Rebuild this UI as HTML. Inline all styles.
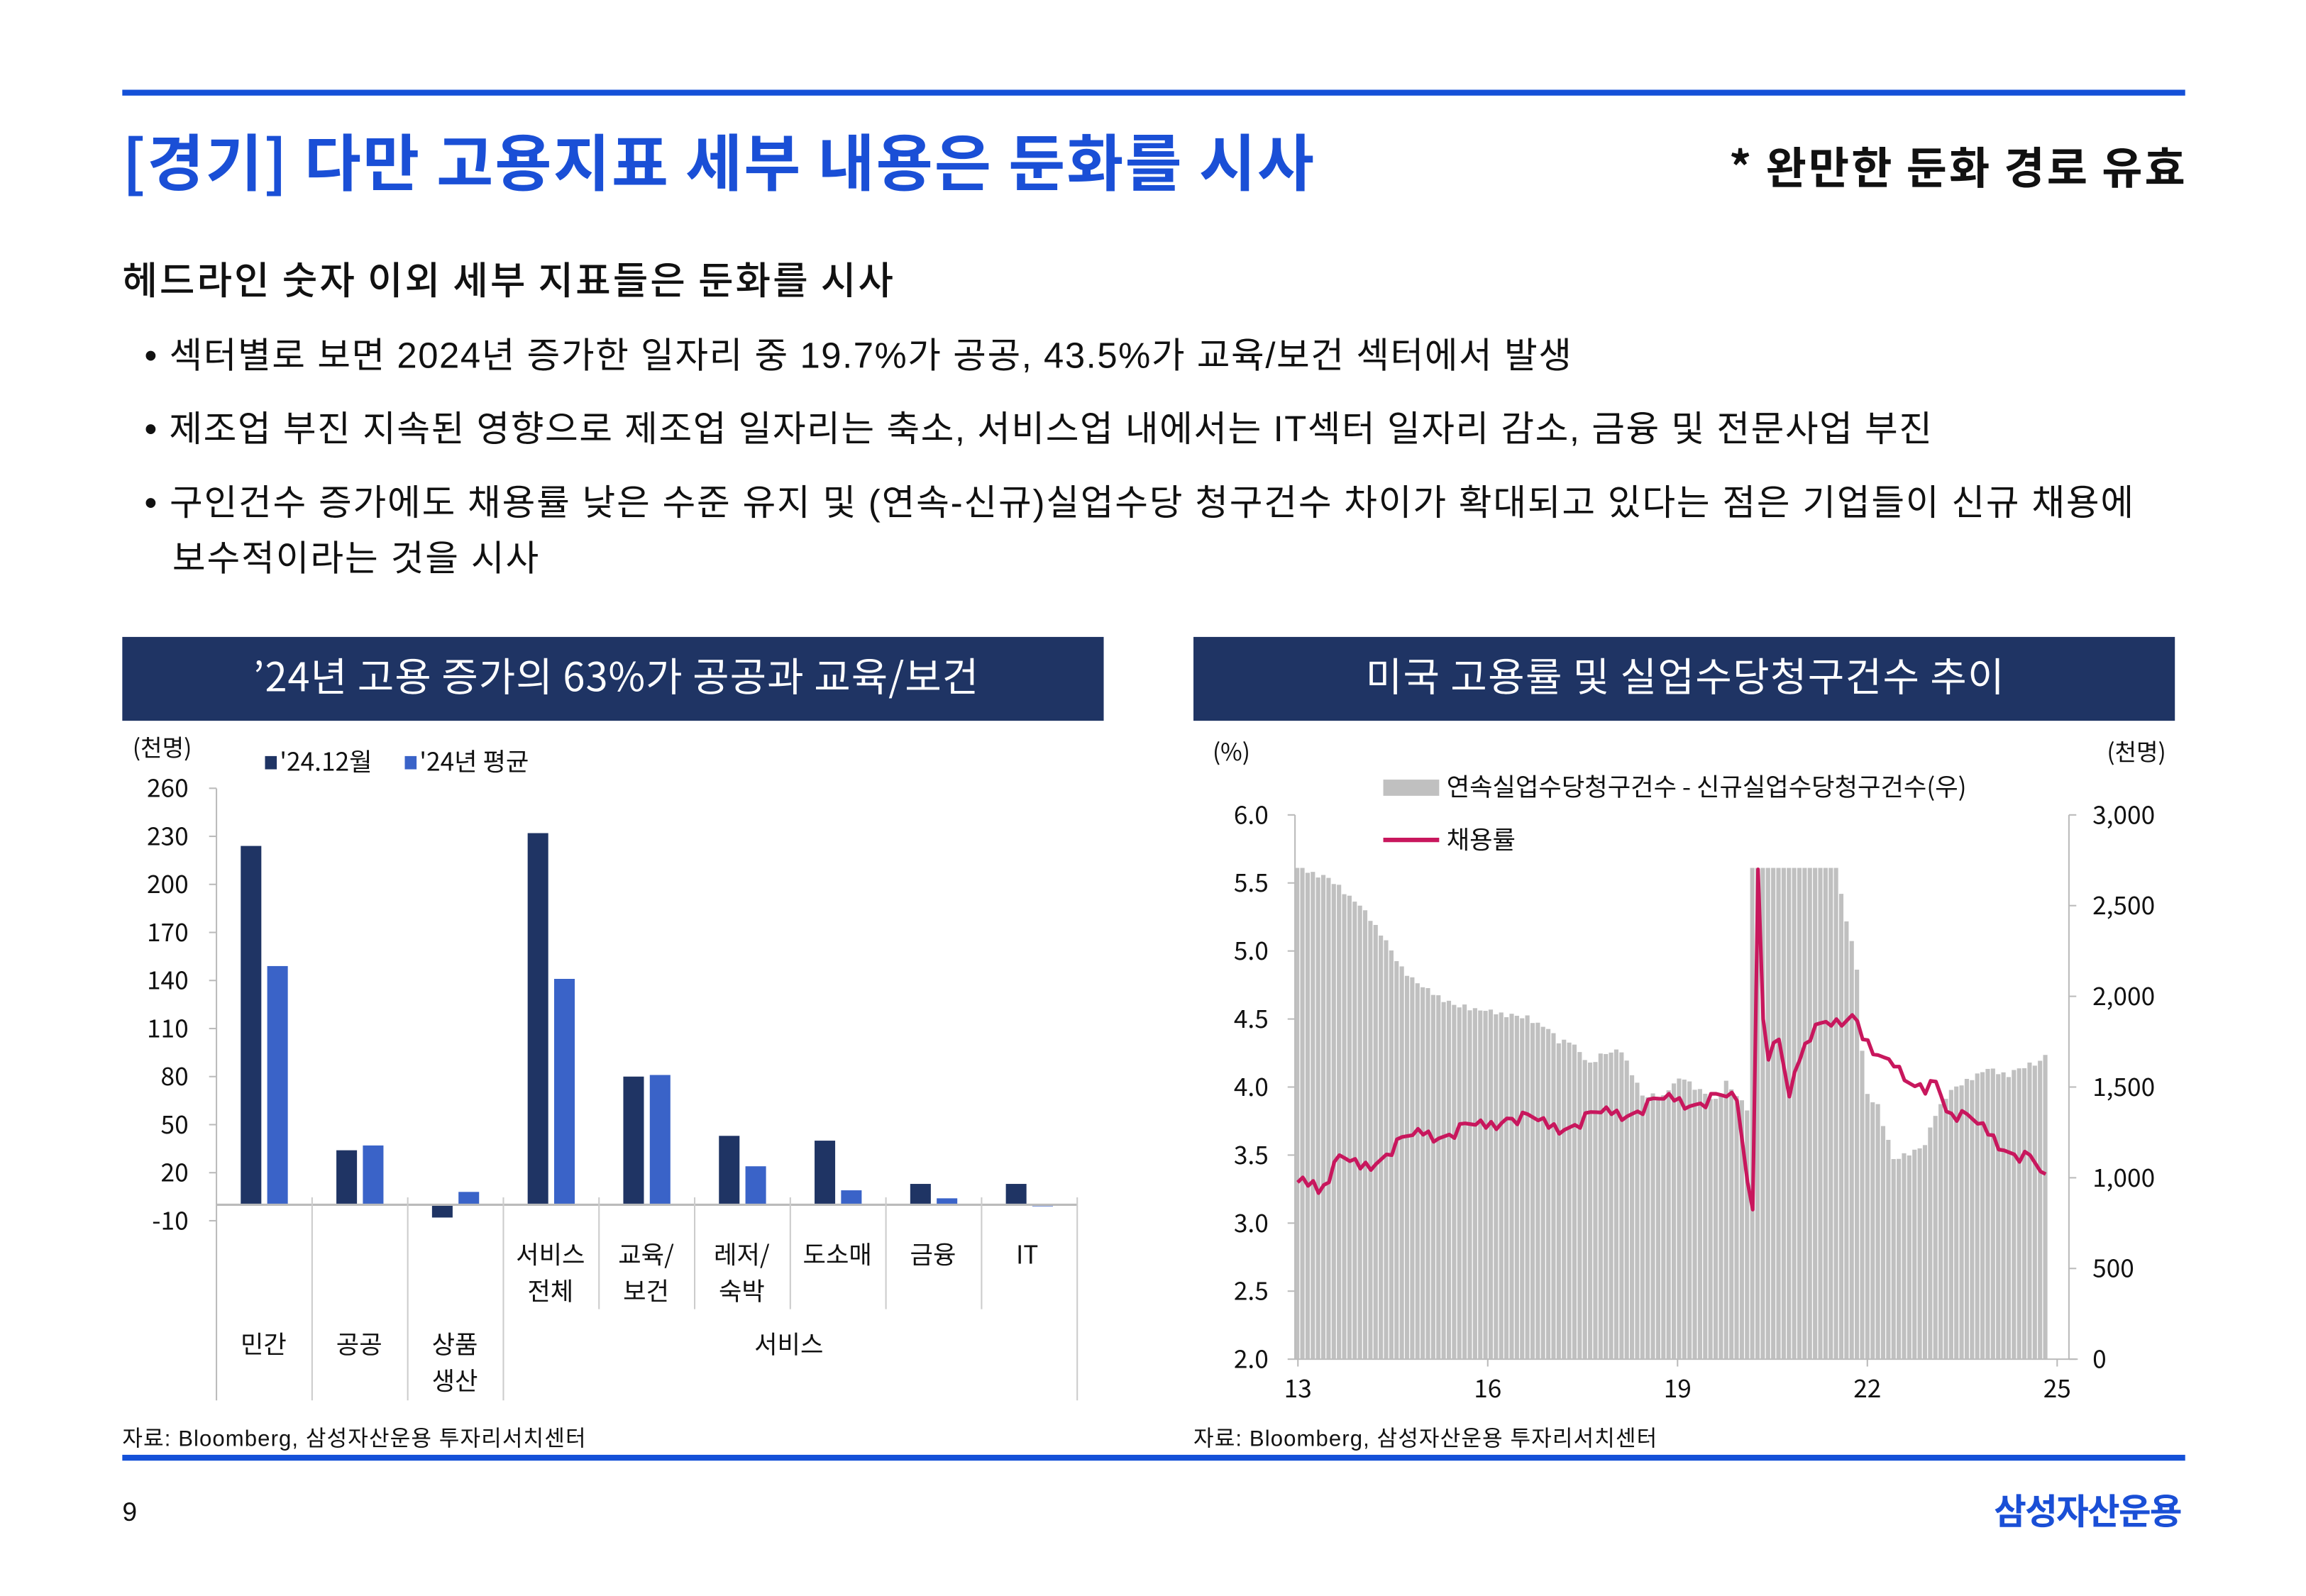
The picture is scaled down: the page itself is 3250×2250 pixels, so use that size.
<!DOCTYPE html>
<html><head><meta charset="utf-8">
<style>
html,body{margin:0;padding:0;background:#fff;}
svg{display:block;}
text{font-family:"Liberation Sans","Noto Sans CJK KR",sans-serif;}
</style></head>
<body>
<svg id="s" xmlns="http://www.w3.org/2000/svg" width="3250" height="2250" viewBox="0 0 1567 1085">
<rect width="1567" height="1085" fill="#fff"/>
<rect x="83" y="61" width="1402" height="4" fill="#1450d8"/>
<text x="83" y="126" font-size="42" font-weight="bold" fill="#1a4fd6" textLength="810" lengthAdjust="spacing" style="font-family:'Noto Sans CJK KR',sans-serif">[경기] 다만 고용지표 세부 내용은 둔화를 시사</text>
<text x="1175" y="125" font-size="30" font-weight="bold" fill="#111" textLength="310" lengthAdjust="spacing" style="font-family:'Noto Sans CJK KR',sans-serif">* 완만한 둔화 경로 유효</text>
<text x="83" y="200" font-size="26" font-weight="500" fill="#111" textLength="524" lengthAdjust="spacing" style="font-family:'Noto Sans CJK KR',sans-serif">헤드라인 숫자 이외 세부 지표들은 둔화를 시사</text>
<g font-size="24.5" fill="#111" style="font-family:'Noto Sans CJK KR',sans-serif">
<text x="98" y="250" textLength="970" lengthAdjust="spacing">• 섹터별로 보면 2024년 증가한 일자리 중 19.7%가 공공, 43.5%가 교육/보건 섹터에서 발생</text>
<text x="98" y="300" textLength="1215" lengthAdjust="spacing">• 제조업 부진 지속된 영향으로 제조업 일자리는 축소, 서비스업 내에서는 IT섹터 일자리 감소, 금융 및 전문사업 부진</text>
<text x="98" y="350" textLength="1352" lengthAdjust="spacing">• 구인건수 증가에도 채용률 낮은 수준 유지 및 (연속-신규)실업수당 청구건수 차이가 확대되고 있다는 점은 기업들이 신규 채용에</text>
<text x="117" y="388" textLength="249" lengthAdjust="spacing">보수적이라는 것을 시사</text>
</g>
<rect x="83" y="433" width="667" height="57" fill="#1f3464"/>
<text x="172" y="470" font-size="27" fill="#fff" textLength="493" lengthAdjust="spacing" style="font-family:'Noto Sans CJK KR',sans-serif">’24년 고용 증가의 63%가 공공과 교육/보건</text>
<rect x="811" y="433" width="667" height="57" fill="#1f3464"/>
<text x="928" y="470" font-size="27" fill="#fff" textLength="434" lengthAdjust="spacing" style="font-family:'Noto Sans CJK KR',sans-serif">미국 고용률 및 실업수당청구건수 추이</text>
<g id="left"></g>
<g id="right"></g>
<g font-size="15" fill="#111" style="font-family:'Noto Sans CJK KR',sans-serif">
<text x="83" y="983" textLength="315" lengthAdjust="spacing">자료: Bloomberg, 삼성자산운용 투자리서치센터</text>
<text x="811" y="983" textLength="315" lengthAdjust="spacing">자료: Bloomberg, 삼성자산운용 투자리서치센터</text>
</g>
<rect x="83" y="989" width="1402" height="4" fill="#1450d8"/>
<text x="83" y="1034" font-size="18" fill="#111">9</text>
<text x="1355" y="1036" font-size="24" font-weight="bold" fill="#1a4fd6" textLength="128" lengthAdjust="spacing" style="font-family:'Noto Sans CJK KR',sans-serif">삼성자산운용</text>
</svg>
<script>
var NS="http://www.w3.org/2000/svg";
function el(p,t,a,txt){var e=document.createElementNS(NS,t);for(var k in a)e.setAttribute(k,a[k]);if(txt!==undefined)e.textContent=txt;p.appendChild(e);return e;}
var L=document.getElementById('left');
var KR="font-family:'Noto Sans CJK KR',sans-serif";
var y0=819, k=294/270;
function Y(v){return y0-v*k;}
el(L,'line',{x1:147,y1:536,x2:147,y2:952,stroke:'#bbb','stroke-width':1});
for(var v=260;v>=-10;v-=30){el(L,'line',{x1:142,y1:Y(v),x2:147,y2:Y(v),stroke:'#bbb'});el(L,'text',{x:128,y:Y(v)+6,'font-size':17,'text-anchor':'end',fill:'#111',style:KR},String(v));}
el(L,'text',{x:90,y:514,'font-size':16,fill:'#111',style:KR},'(천명)');
el(L,'rect',{x:180,y:514,width:8,height:9,fill:'#1f3464'});
el(L,'text',{x:190,y:524,'font-size':17,fill:'#111',style:KR},"'24.12월");
el(L,'rect',{x:275,y:514,width:8,height:9,fill:'#3a63c8'});
el(L,'text',{x:285,y:524,'font-size':17,fill:'#111',style:KR},"'24년 평균");
var d=[[224,149],[34,37],[-8,8],[232,141],[80,81],[43,24],[40,9],[13,4],[13,-1]];
for(var i=0;i<9;i++){var c=179.5+i*65;
 var a=d[i][0],b=d[i][1];
 el(L,'rect',{x:c-16,y:Math.min(Y(a),y0),width:14,height:Math.abs(Y(a)-y0),fill:'#1f3464'});
 el(L,'rect',{x:c+2,y:Math.min(Y(b),y0),width:14,height:Math.max(1,Math.abs(Y(b)-y0)),fill:'#3a63c8'});}
el(L,'line',{x1:147,y1:y0,x2:732,y2:y0,stroke:'#bbb','stroke-width':1.5});
for(var i=1;i<=9;i++){var x=147+i*65;var full=(i<=3||i==9);
 el(L,'line',{x1:x,y1:814,x2:x,y2:full?952:890,stroke:'#ccc'});}
var lab=[[374,['서비스','전체']],[439,['교육/','보건']],[504,['레저/','숙박']],[569,['도소매']],[634,['금융']],[698,['IT']]];
lab.forEach(function(l){l[1].forEach(function(t,j){el(L,'text',{x:l[0],y:859+j*25,'font-size':17,'text-anchor':'middle',fill:'#111',style:KR},t);});});
[[179,['민간']],[244,['공공']],[309,['상품','생산']],[536,['서비스']]].forEach(function(l){l[1].forEach(function(t,j){el(L,'text',{x:l[0],y:920+j*25,'font-size':17,'text-anchor':'middle',fill:'#111',style:KR},t);});});
var R=document.getElementById('right');
var x0=880,x1=1392,yb=924,yt=554;
function YL(v){return yb-(v-2)/4*(yb-yt);}
function YR(v){return yb-v/3000*(yb-yt);}
function interp(anc,n){var o=[];for(var i=0;i<n;i++){for(var j=0;j<anc.length-1;j++){if(i>=anc[j][0]&&i<=anc[j+1][0]){var t=(i-anc[j][0])/((anc[j+1][0]-anc[j][0])||1);o.push(anc[j][1]+t*(anc[j+1][1]-anc[j][1]));break;}}}return o;}
var n=144;
var bars=interp([[0,2800],[1,2700],[6,2650],[12,2500],[16,2350],[20,2150],[24,2050],[30,1950],[36,1920],[44,1880],[48,1820],[50,1750],[52,1760],[56,1620],[58,1680],[62,1700],[64,1580],[66,1450],[70,1450],[72,1520],[74,1550],[76,1500],[80,1420],[82,1530],[84,1450],[86,1380],[87,2800],[103,2800],[104,2550],[106,2300],[107,2150],[108,1700],[109,1450],[111,1400],[112,1300],[114,1100],[116,1120],[118,1150],[120,1180],[122,1350],[124,1450],[126,1500],[128,1530],[130,1570],[132,1600],[134,1580],[136,1570],[138,1600],[140,1620],[142,1640],[143,1680]],n);
var noise=[0,20,-15,10,-25,15,5,-10,25,-20,8,-5];
var bw=(x1-x0)/n;
for(var i=0;i<n;i++){var v=bars[i]+(i<87||i>103?noise[i%12]*0.6:0);v=Math.min(v,2708);
 el(R,'rect',{x:x0+i*bw,y:YR(v),width:bw-0.6,height:yb-YR(v),fill:'#c0c0c0'});}
var hr=interp([[0,3.3],[3,3.35],[4,3.25],[8,3.45],[12,3.4],[18,3.55],[24,3.65],[36,3.7],[40,3.8],[48,3.7],[60,3.8],[66,3.85],[72,3.9],[84,3.9],[85,3.6],[86,3.3],[87,3.1],[88,5.6],[89,4.5],[90,4.25],[92,4.3],[94,3.9],[96,4.2],[99,4.5],[102,4.5],[104,4.4],[106,4.5],[108,4.35],[112,4.25],[114,4.2],[116,4.0],[120,3.95],[122,4.1],[124,3.85],[126,3.8],[130,3.7],[134,3.6],[138,3.5],[140,3.45],[142,3.35],[143,3.3]],n);
var nz=[0,0.05,-0.06,0.04,-0.03,0.06,-0.05,0.02,0.05,-0.04,0.03,-0.02];
var pts=[];for(var i=0;i<n;i++){var v=hr[i]+((i>=85&&i<=89)?0:nz[(i*7)%12]);pts.push((x0+(i+0.5)*bw).toFixed(1)+','+YL(v).toFixed(1));}
el(R,'polyline',{points:pts.join(' '),fill:'none',stroke:'#c8175d','stroke-width':2.5,'stroke-linejoin':'round'});
el(R,'line',{x1:x0,y1:yt,x2:x0,y2:yb,stroke:'#bbb'});
el(R,'line',{x1:1406,y1:yt,x2:1406,y2:yb,stroke:'#bbb'});
el(R,'line',{x1:x0,y1:yb,x2:1412,y2:yb,stroke:'#bbb'});
for(var i=0;i<=8;i++){var v=2+i*0.5,y=YL(v);el(R,'line',{x1:875,y1:y,x2:x0,y2:y,stroke:'#bbb'});el(R,'text',{x:862,y:y+6,'font-size':17,'text-anchor':'end',fill:'#111',style:KR},v.toFixed(1));}
var rl=['0','500','1,000','1,500','2,000','2,500','3,000'];
for(var i=0;i<=6;i++){var y=YR(i*500);el(R,'line',{x1:1406,y1:y,x2:1411,y2:y,stroke:'#bbb'});el(R,'text',{x:1422,y:y+6,'font-size':17,fill:'#111',style:KR},rl[i]);}
['13','16','19','22','25'].forEach(function(t,j){var x=882+j*129;el(R,'line',{x1:x,y1:yb,x2:x,y2:yb+5,stroke:'#bbb'});el(R,'text',{x:x,y:950,'font-size':17,'text-anchor':'middle',fill:'#111',style:KR},t);});
el(R,'text',{x:824,y:517,'font-size':16,fill:'#111',style:KR},'(%)');
el(R,'text',{x:1472,y:517,'font-size':16,fill:'#111','text-anchor':'end',style:KR},'(천명)');
el(R,'rect',{x:940,y:530,width:38,height:11,fill:'#c0c0c0'});
el(R,'text',{x:983,y:541,'font-size':17,fill:'#111',style:KR},'연속실업수당청구건수 - 신규실업수당청구건수(우)');
el(R,'line',{x1:940,y1:571,x2:978,y2:571,stroke:'#c8175d','stroke-width':3});
el(R,'text',{x:983,y:577,'font-size':17,fill:'#111',style:KR},'채용률');
</script>
</body></html>
